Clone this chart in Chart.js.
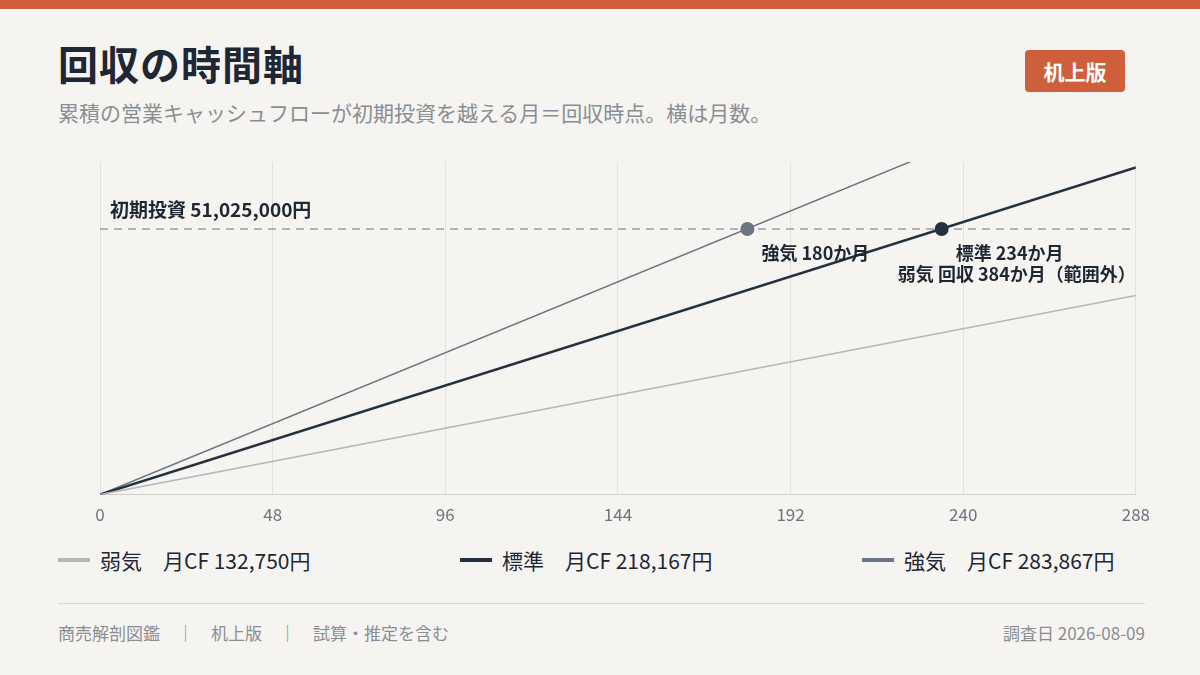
<!DOCTYPE html>
<html><head><meta charset="utf-8">
<script src="https://cdn.jsdelivr.net/npm/chart.js@4/dist/chart.umd.min.js"></script>
<style>
body{margin:0;width:1200px;height:675px;background:#f5f4f0;font-family:"Noto Sans CJK JP",sans-serif;position:relative;overflow:hidden;color:#1e2733}
#bar{position:absolute;left:0;top:0;width:1200px;height:9px;background:#cf5f3b}
h1{position:absolute;left:58px;top:34px;margin:0;font-size:40px;font-weight:700;letter-spacing:1px}
#sub{position:absolute;left:58px;top:97px;font-size:21px;color:#8a8e94}
#badge{position:absolute;left:1025px;top:50px;width:100px;height:42px;background:#cf5f3b;color:#fff;font-size:21px;font-weight:700;text-align:center;line-height:42px;border-radius:4px}
#wrap{position:absolute;left:80px;top:150px;width:1080px;height:385px}
.lg{position:absolute;top:545px;font-size:21px;display:flex;align-items:center}
.lg i{display:inline-block;width:32px;height:4px;margin-right:10px}
#foot{position:absolute;left:58px;right:55px;top:603px;border-top:1px solid #d8d6d0;padding-top:16px;font-size:17px;color:#8a8e94}
#foot span{float:right}
</style></head><body>
<div id="bar"></div>
<h1>回収の時間軸</h1>
<div id="badge">机上版</div>
<div id="sub">累積の営業キャッシュフローが初期投資を越える月＝回収時点。横は月数。</div>
<div id="wrap"><canvas id="c"></canvas></div>
<div class="lg" style="left:58px"><i style="background:#b4b8bd"></i>弱気　月CF 132,750円</div>
<div class="lg" style="left:460px"><i style="background:#253040"></i>標準　月CF 218,167円</div>
<div class="lg" style="left:862px"><i style="background:#6b7682"></i>強気　月CF 283,867円</div>
<div id="foot">商売解剖図鑑　｜　机上版　｜　試算・推定を含む<span>調査日 2026-08-09</span></div>
<script>
const seriesNames=["弱気","標準","強気"];
const monthlyCF=[132750,218167,283867];
const endMonth=288;
const endValues=[38232000,62832096,81753696];
const colors=["#b4b8bd","#253040","#6b7682"];
const widths=[1.5,2.5,1.5];
const investment=51025000;
const payback=[384,234,180];
const xTicks=[0,48,96,144,192,240,288];
const yMax=63900000;

const datasets=seriesNames.map((n,i)=>({label:n,data:[{x:0,y:0},{x:endMonth,y:endValues[i]}],borderColor:colors[i],borderWidth:widths[i],pointRadius:0,fill:false}));
const annot={id:'annot',afterDatasetsDraw(ch){
 const c=ch.ctx,a=ch.chartArea,xs=ch.scales.x,ys=ch.scales.y;
 const yi=ys.getPixelForValue(investment);
 c.save();
 c.strokeStyle='#9a9ea4';c.lineWidth=1.5;c.setLineDash([8,6]);
 c.beginPath();c.moveTo(a.left,yi);c.lineTo(a.right,yi);c.stroke();c.setLineDash([]);
 c.font='bold 19px "Noto Sans CJK JP"';c.fillStyle='#1e2733';c.textBaseline='alphabetic';
 c.fillText('初期投資 51,025,000円',a.left+10,yi-12);
 [[2,'#6b7682'],[1,'#253040']].forEach(([i,col])=>{
   const px=xs.getPixelForValue(payback[i]);
   c.fillStyle=col;c.beginPath();c.arc(px,yi,7,0,Math.PI*2);c.fill();
 });
 c.fillStyle='#1e2733';c.font='bold 18px "Noto Sans CJK JP"';
 c.textAlign='left';
 c.fillText('強気 180か月',xs.getPixelForValue(180)+14,yi+31);
 c.fillText('標準 234か月',xs.getPixelForValue(234)+14,yi+31);
 c.textAlign='right';
 c.fillText('弱気 回収 384か月（範囲外）',a.right,yi+52);
 c.restore();
}};
new Chart(document.getElementById('c'),{type:'line',data:{datasets},
 options:{responsive:true,maintainAspectRatio:false,animation:false,
  layout:{padding:{left:20,right:20,top:12,bottom:0}},
  plugins:{legend:{display:false},tooltip:{enabled:false}},
  scales:{
   x:{type:'linear',min:0,max:288,afterBuildTicks:s=>{s.ticks=xTicks.map(v=>({value:v}))},
      grid:{color:'#e4e2dd',drawTicks:false},border:{color:'#cfcdc8'},
      ticks:{color:'#6b7682',font:{size:17,family:'"Noto Sans CJK JP"'},padding:10}},
   y:{min:0,max:yMax,display:true,ticks:{display:false},grid:{display:false,drawTicks:false},border:{display:false}}
  }},plugins:[annot]});
</script></body></html>
